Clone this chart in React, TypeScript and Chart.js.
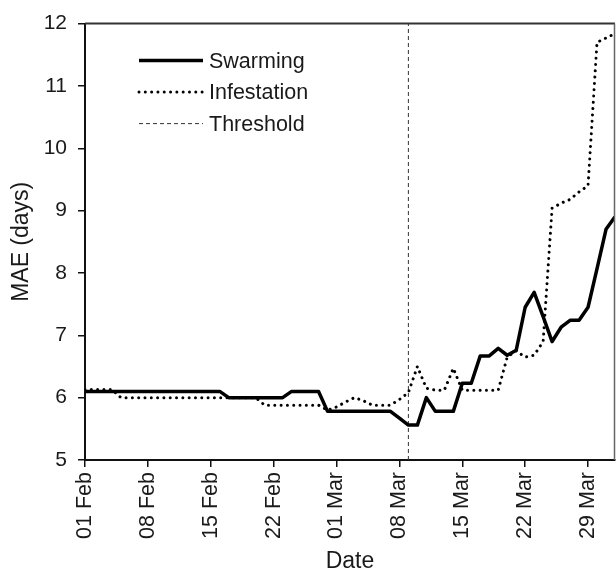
import React, { useEffect, useRef } from "react";
import { Chart, registerables } from "chart.js";

Chart.register(...registerables);

// Days since 01 Feb (index = day offset)
const swarming: number[] = [
  6.1, 6.1, 6.1, 6.1, 6.1, 6.1, 6.1, 6.1, 6.1, 6.1, 6.1, 6.1, 6.1, 6.1, 6.1, 6.1,
  6.0, 6.0, 6.0, 6.0, 6.0, 6.0, 6.0,
  6.1, 6.1, 6.1, 6.1,
  5.78, 5.78, 5.78, 5.78, 5.78, 5.78, 5.78, 5.78,
  5.67, 5.56, 5.56, 6.0,
  5.78, 5.78, 5.78,
  6.23, 6.23, 6.67, 6.67, 6.79, 6.68, 6.76, 7.45, 7.69, 7.3, 6.9, 7.13, 7.24, 7.24, 7.45, 8.07, 8.7, 8.9,
];

const infestation: number[] = [
  6.13, 6.13, 6.13, 6.13,
  6.0, 6.0, 6.0, 6.0, 6.0, 6.0, 6.0, 6.0, 6.0, 6.0, 6.0, 6.0, 6.0, 6.0, 6.0, 6.0,
  5.88, 5.88, 5.88, 5.88, 5.88, 5.88, 5.88,
  5.8, 5.85, 5.93, 6.0, 5.95,
  5.88, 5.88, 5.88,
  5.97, 6.08, 6.5, 6.15,
  6.12, 6.12, 6.47,
  6.12, 6.12, 6.12, 6.12, 6.12,
  6.65, 6.75, 6.65, 6.68, 6.9, 9.04, 9.12, 9.18, 9.3, 9.4, 11.7, 11.77, 11.84,
];

const thresholdDay = 36; // 09 Mar
const thresholdRange: number[] = [5, 12];

const xTickLabels: string[] = [
  "01 Feb", "08 Feb", "15 Feb", "22 Feb", "01 Mar", "08 Mar", "15 Mar", "22 Mar", "29 Mar",
];
const seriesNames: string[] = ["Swarming", "Infestation", "Threshold"];

const FONT = "'Liberation Sans', Arial, sans-serif";
const TEXT = "#1a1a1a";

export default function App() {
  const ref = useRef<HTMLCanvasElement | null>(null);

  useEffect(() => {
    if (!ref.current) return;

    const framePlugin = {
      id: "frame",
      afterDatasetsDraw(chart: any) {
        const { ctx, chartArea } = chart;
        ctx.save();
        ctx.strokeStyle = "#333";
        ctx.lineWidth = 2;
        ctx.beginPath();
        ctx.moveTo(chartArea.left, chartArea.top);
        ctx.lineTo(chartArea.right, chartArea.top);
        ctx.stroke();
        ctx.strokeStyle = "#666";
        ctx.lineWidth = 1.5;
        ctx.beginPath();
        ctx.moveTo(chartArea.right - 0.5, chartArea.top);
        ctx.lineTo(chartArea.right - 0.5, chartArea.bottom);
        ctx.stroke();
        ctx.restore();
      },
    };

    const legendPlugin = {
      id: "innerLegend",
      afterDraw(chart: any) {
        const { ctx, chartArea } = chart;
        const x0 = chartArea.left + 54;
        const x1 = chartArea.left + 118;
        const y0 = chartArea.top + 37;
        const gap = 31.5;
        ctx.save();
        chart.data.datasets.forEach((ds: any, i: number) => {
          const y = y0 + i * gap;
          ctx.strokeStyle = ds.borderColor;
          ctx.lineWidth = ds.borderWidth;
          ctx.lineCap = ds.borderCapStyle || "butt";
          ctx.setLineDash(ds.borderDash || []);
          ctx.beginPath();
          ctx.moveTo(x0, y);
          ctx.lineTo(x1, y);
          ctx.stroke();
          ctx.setLineDash([]);
          ctx.fillStyle = TEXT;
          ctx.font = `21.5px ${FONT}`;
          ctx.textBaseline = "middle";
          ctx.textAlign = "left";
          ctx.fillText(ds.label, x1 + 6, y + 1);
        });
        ctx.restore();
      },
    };

    const chart = new Chart(ref.current, {
      type: "line",
      data: {
        datasets: [
          {
            label: seriesNames[0],
            data: swarming.map((v, i) => ({ x: i, y: v })),
            borderColor: "#000",
            borderWidth: 3.5,
            pointRadius: 0,
            tension: 0,
            borderJoinStyle: "round",
          },
          {
            label: seriesNames[1],
            data: infestation.map((v, i) => ({ x: i, y: v })),
            borderColor: "#000",
            borderWidth: 3,
            borderDash: [0.01, 6.3],
            borderCapStyle: "round",
            pointRadius: 0,
            tension: 0,
          },
          {
            label: seriesNames[2],
            data: thresholdRange.map((v) => ({ x: thresholdDay, y: v })),
            borderColor: "#333",
            borderWidth: 1,
            borderDash: [4, 3],
            pointRadius: 0,
          },
        ],
      },
      options: {
        animation: false,
        responsive: false,
        maintainAspectRatio: false,
        layout: { padding: { top: 23, right: 1, left: 0, bottom: 0 } },
        plugins: {
          legend: { display: false },
          tooltip: { enabled: false },
        },
        scales: {
          x: {
            type: "linear",
            min: 0,
            max: 59,
            afterFit(scale: any) {
              scale.height = 115;
              scale.paddingRight = 0;
              scale.paddingLeft = 0;
            },
            ticks: {
              stepSize: 7,
              includeBounds: false,
              autoSkip: false,
              minRotation: 90,
              maxRotation: 90,
              padding: 5,
              color: TEXT,
              font: { family: FONT, size: 21.5 },
              callback: (v: any) => xTickLabels[Math.round(Number(v) / 7)] ?? "",
            },
            grid: {
              display: true,
              drawOnChartArea: false,
              drawTicks: true,
              tickLength: 7,
              color: "#111",
              lineWidth: 1.5,
            },
            border: { display: true, color: "#111", width: 2 },
            title: {
              display: true,
              text: "Date",
              color: TEXT,
              font: { family: FONT, size: 23 },
              padding: { top: 0, bottom: 0 },
            },
          },
          y: {
            min: 5,
            max: 12,
            afterFit(scale: any) {
              scale.width = 85;
            },
            ticks: {
              stepSize: 1,
              padding: 11,
              color: TEXT,
              font: { family: FONT, size: 21 },
            },
            grid: {
              display: true,
              drawOnChartArea: false,
              drawTicks: true,
              tickLength: 7,
              color: "#111",
              lineWidth: 1.5,
            },
            border: { display: true, color: "#111", width: 2 },
            title: {
              display: true,
              text: "MAE (days)",
              color: TEXT,
              font: { family: FONT, size: 23 },
              padding: { top: 8, bottom: 0 },
            },
          },
        },
      },
      plugins: [framePlugin, legendPlugin],
    } as any);

    return () => chart.destroy();
  }, []);

  return (
    <div style={{ position: "fixed", left: 0, top: 0, width: 616, height: 575, background: "#fff" }}>
      <canvas ref={ref} width={616} height={575} style={{ display: "block" }} />
    </div>
  );
}
